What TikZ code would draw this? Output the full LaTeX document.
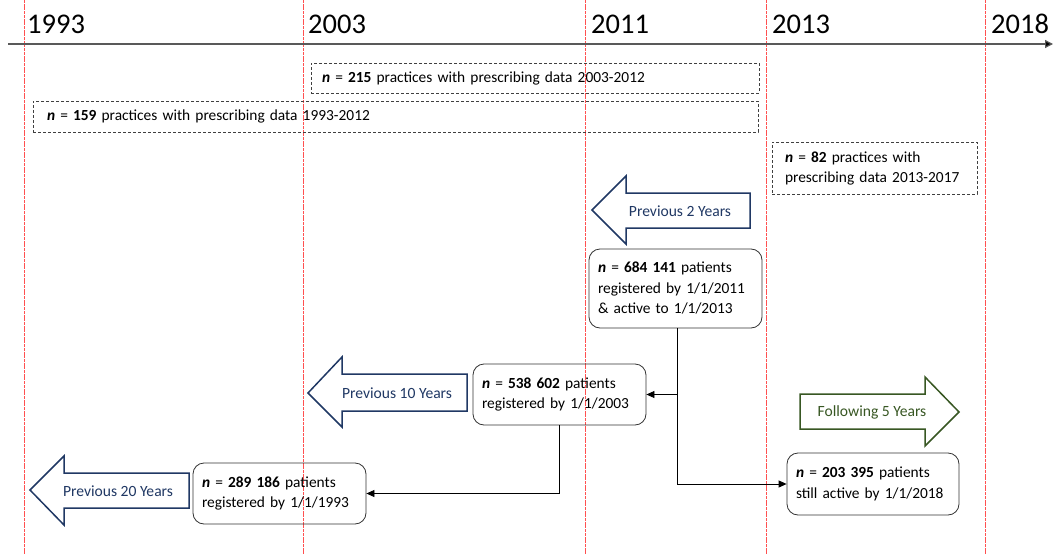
\documentclass[tikz,border=0pt]{standalone}
\usepackage{fontspec}
\setmainfont{Carlito}
\usetikzlibrary{arrows.meta}
\definecolor{navyc}{HTML}{203864}
\definecolor{greenc}{HTML}{385723}
\definecolor{redl}{HTML}{FF5050}
\begin{document}
\begin{tikzpicture}[x=1pt,y=-1pt,
  yearline/.style={redl,line width=1pt,dash pattern=on 3pt off 0.7pt},
  yearlabel/.style={anchor=base west,inner sep=0pt,font=\fontsize{28.5}{32}\selectfont},
  dashbox/.style={draw=black!75,line width=0.8pt,dash pattern=on 3pt off 2pt,align=left,
     font=\fontsize{15.4}{20}\selectfont,inner ysep=0pt},
  patbox/.style={draw=black!80,line width=0.8pt,rounded corners=11pt,align=left,
     font=\fontsize{15.4}{20.5}\selectfont,inner ysep=0pt,inner xsep=9pt,text width=155pt},
  navyarrow/.style={draw=navyc,line width=1.5pt,fill=white,line join=miter},
  greenarrow/.style={draw=greenc,line width=1.5pt,fill=white,line join=miter},
  navytext/.style={text=navyc,font=\fontsize{15.6}{18}\selectfont,inner sep=0pt},
  greentext/.style={text=greenc,font=\fontsize{15.6}{18}\selectfont,inner sep=0pt},
  conn/.style={draw=black,line width=0.8pt,-{Triangle[length=8pt,width=7pt]}}
]
\useasboundingbox (0,0) rectangle (1053,554);
% vertical year lines
\foreach \xx/\nm in {24/a,303/b,585/c,766/d,985/e}{
  \coordinate (top\nm) at (\xx,0);
  \coordinate (bot\nm) at (\xx,554);
  \draw[yearline] (top\nm) -- (bot\nm);
}
% axis
\coordinate (axl) at (8,44);
\coordinate (axr) at (1053,44);
\draw[draw=black!65,line width=1.2pt,-{Triangle[length=8pt,width=8pt,fill=black]}] (axl) -- (axr);
% year labels
\node[yearlabel] (y1993) at (27,34) {1993};
\node[yearlabel] (y2003) at (308,34) {2003};
\node[yearlabel] (y2011) at (591,34) {2011};
\node[yearlabel] (y2013) at (772,34) {2013};
\node[yearlabel] (y2018) at (991,34) {2018};
% dashed practice boxes
\node[dashbox,minimum width=448pt,minimum height=30pt,text width=426pt,inner xsep=11pt] (pA) at (535,78)
  {\textbf{\textit{n}} = \textbf{215} practices with prescribing data 2003-2012};
\node[dashbox,minimum width=725pt,minimum height=31pt,text width=697pt,inner xsep=14pt] (pB) at (395.5,116.5)
  {\textbf{\textit{n}} = \textbf{159} practices with prescribing data 1993-2012};
\node[dashbox,minimum width=205pt,minimum height=52pt,text width=179pt,inner xsep=13pt] (pC) at (874.5,168)
  {\textbf{\textit{n}} = \textbf{82} practices with\\prescribing data 2013-2017};
% block arrows
\draw[navyarrow] (592,210) -- (626,176) -- (626,193) -- (750,193) -- (750,228) -- (626,228) -- (626,244) -- cycle;
\node[navytext] (a2) at (680,211) {Previous 2 Years};
\draw[navyarrow] (308,393) -- (342,357) -- (342,374) -- (467,374) -- (467,411) -- (342,411) -- (342,427) -- cycle;
\node[navytext] (a10) at (397,393) {Previous 10 Years};
\draw[navyarrow] (30,490) -- (64,456) -- (64,473) -- (189,473) -- (189,508) -- (64,508) -- (64,525) -- cycle;
\node[navytext] (a20) at (118,491) {Previous 20 Years};
\draw[greenarrow] (800,394) -- (925,394) -- (925,377) -- (959,412) -- (925,446) -- (925,429) -- (800,429) -- cycle;
\node[greentext] (f5) at (872,412) {Following 5 Years};
% patient boxes
\node[patbox,minimum width=173pt,minimum height=79pt] (b684) at (675.5,288.5)
  {\textbf{\textit{n}} = \textbf{684 141} patients\\registered by 1/1/2011\\\& active to 1/1/2013};
\node[patbox,minimum width=173pt,minimum height=61pt] (b538) at (559.5,394.5)
  {\textbf{\textit{n}} = \textbf{538 602} patients\\registered by 1/1/2003};
\node[patbox,minimum width=173pt,minimum height=61pt] (b289) at (279.5,493.5)
  {\textbf{\textit{n}} = \textbf{289 186} patients\\registered by 1/1/1993};
\node[patbox,minimum width=172pt,minimum height=62pt,text width=154pt] (b203) at (873,484)
  {\textbf{\textit{n}} = \textbf{203 395} patients\\still active by 1/1/2018};
% connectors
\coordinate (c684) at ([xshift=1.5pt]b684.south);
\draw[conn] (c684) |- (b203.west);
\draw[conn] (c684 |- b538.east) -- (b538.east);
\draw[conn] (b538.south) |- (b289.east);
\end{tikzpicture}
\end{document}
